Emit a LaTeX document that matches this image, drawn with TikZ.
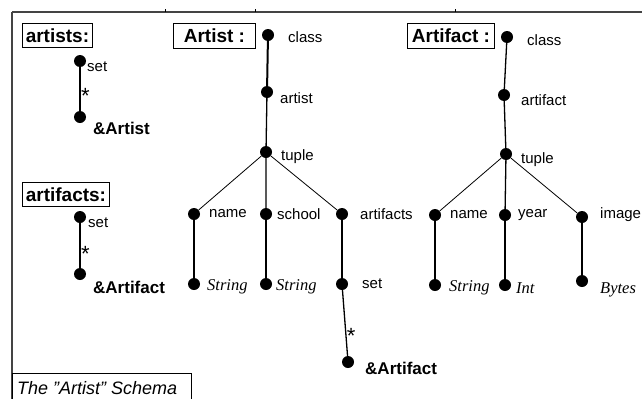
\documentclass[tikz,border=0pt]{standalone}
\usepackage{fontspec}
\setmainfont{Liberation Sans}
\newfontfamily\serifit{Liberation Serif}
\definecolor{rule}{HTML}{444444}
\tikzset{
  dot/.style={circle, fill=black, minimum size=12pt, inner sep=0pt},
  attr/.style={anchor=west, inner sep=0pt, font=\fontsize{15}{16}\selectfont},
  ref/.style={anchor=west, inner sep=0pt, font=\fontsize{17}{19}\selectfont\bfseries},
  atom/.style={anchor=west, inner sep=0pt, font=\fontsize{16.5}{18}\selectfont\serifit\itshape},
  head/.style={draw, line width=0.9pt, inner sep=0pt, anchor=north west,
    font=\fontsize{19}{20}\selectfont\bfseries},
  star/.style={inner sep=0.5pt, yshift=-4pt, font=\fontsize{22}{22}\selectfont},
  frame/.style={rule, line width=1.6pt},
  trunk/.style={line width=2pt},
  edge/.style={line width=1.3pt},
  branch/.style={line width=0.8pt},
}
\begin{document}
\begin{tikzpicture}[x=1pt,y=-1pt]
\useasboundingbox (0,0) rectangle (642,399);

%% ---- frame and caption -------------------------------------------------
\draw[frame] (12,12) -- (642,12);
\draw[frame] (12,12) -- (12,399);
\foreach \x in {165,255,455}
  \draw[line width=1pt] (\x,9) -- (\x,12);
\draw[line width=0.9pt] (12,399) |- (191,373) -- (191,399);
\node[anchor=west, inner sep=0pt, font=\fontsize{18}{20}\selectfont\itshape]
  (caption) at (17,388) {The "Artist" Schema};

%% ---- artists / artifacts roots -------------------------------------------
\node[head, minimum width=70pt, minimum height=24pt] (hartists) at (22,23) {artists:};
\node[dot] (s1) at (80,61) {};
\node[dot] (r1) at (80,117) {};
\draw[edge] (s1) -- node[star, right, pos=0.57] {*} (r1);
\node[attr] (ls1) at (87,67) {set};
\node[ref] (lr1) at (93,128) {\&Artist};

\node[head, minimum width=87pt, minimum height=24pt] (hartifacts) at (22,182) {artifacts:};
\node[dot] (s2) at (80,217) {};
\node[dot] (r2) at (80,274) {};
\draw[edge] (s2) -- node[star, right, pos=0.61] {*} (r2);
\node[attr] (ls2) at (88,223) {set};
\node[ref] (lr2) at (93,287) {\&Artifact};

%% ---- class Artist --------------------------------------------------------
\node[head, minimum width=82pt, minimum height=25pt] (hartist) at (173,23) {Artist :};
\node[dot] (ac) at (268,35) {};
\node[dot] (aa) at (267,92) {};
\node[dot] (at) at (266,152) {};
\foreach \n/\x in {an/194, as/266, af/342}
  \node[dot] (\n) at (\x,214) {};
\foreach \n/\x in {ans/194, ass/266, afs/342}
  \node[dot] (\n) at (\x,284) {};
\node[dot] (afr) at (348,362) {};
\draw[trunk] (ac) -- (aa);
\draw[edge] (aa) -- (at) (at) -- (as);
\draw[branch] (at) -- (an) (at) -- (af);
\draw[edge] (an) -- (ans) (as) -- (ass);
\draw[edge] (afs) -- node[star, right, pos=0.63] {*} (afr);
\draw[edge] (af) -- (afs);
\node[attr] at (288,37) {class};
\node[attr] at (280,98) {artist};
\node[attr] at (281,157) {tuple};
\node[attr] at (209,214) {name};
\node[attr] at (277,214) {school};
\node[attr] at (360,214) {artifacts};
\node[atom] at (207,287) {String};
\node[atom] at (276,287) {String};
\node[attr] at (362,284) {set};
\node[ref] at (365,368) {\&Artifact};

%% ---- class Artifact ------------------------------------------------------
\node[head, minimum width=87pt, minimum height=25pt] (hartifact) at (407,23) {Artifact :};
\node[dot] (fc) at (507,37) {};
\node[dot] (fa) at (504,95) {};
\node[dot] (ft) at (506,154) {};
\node[dot] (fn) at (435,215) {};
\node[dot] (fy) at (505,215) {};
\node[dot] (fi) at (582,217) {};
\node[dot] (fns) at (435,285) {};
\node[dot] (fys) at (505,285) {};
\node[dot] (fis) at (582,281) {};
\draw[edge] (fc) -- (fa) (fa) -- (ft) (ft) -- (fy);
\draw[branch] (ft) -- (fn) (ft) -- (fi);
\draw[edge] (fn) -- (fns) (fy) -- (fys) (fi) -- (fis);
\node[attr] at (527,40) {class};
\node[attr] at (521,100) {artifact};
\node[attr] at (521,160) {tuple};
\node[attr] at (450,215) {name};
\node[attr] at (518,215) {year};
\node[attr] at (600,215) {image};
\node[atom] at (449,288) {String};
\node[atom] at (516,288) {Int};
\node[atom] at (600,290) {Bytes};

\end{tikzpicture}
\end{document}
